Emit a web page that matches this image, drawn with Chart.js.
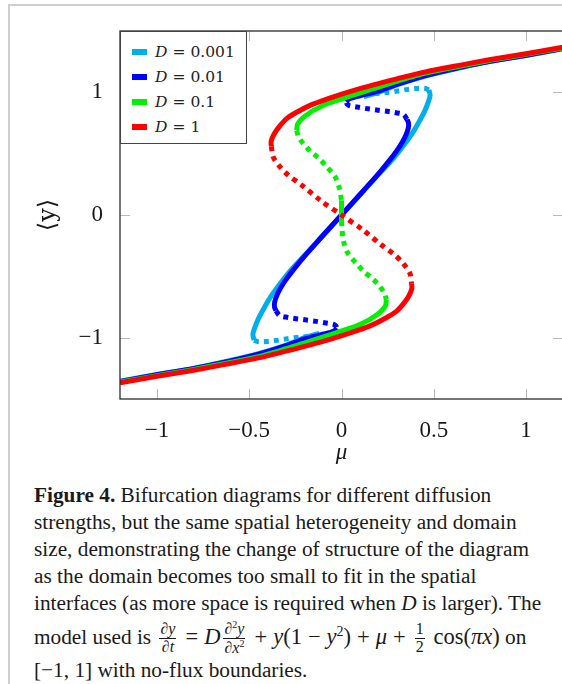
<!DOCTYPE html>
<html>
<head>
<meta charset="utf-8">
<script src="https://cdn.jsdelivr.net/npm/chart.js@4.4.1/dist/chart.umd.min.js"></script>
<style>
  html, body { margin: 0; padding: 0; background: #fff; }
  body { width: 562px; height: 684px; overflow: hidden; position: relative; }
  #frame { position: absolute; left: 8px; top: 4px; width: 700px; height: 800px;
           border-left: 2px solid #cfcfcf; border-top: 2px solid #cfcfcf; }
  #chartBox { position: absolute; left: 0; top: 0; width: 570px; height: 480px; }
  #legend { position: absolute; background: #fff; border: 1px solid #444; box-sizing: border-box;
            font-family: "DejaVu Serif", serif; font-size: 15.5px; color: #222; padding-top: 7px; }
  #legend .row { height: 25px; display: flex; align-items: center; }
  #legend .sw { width: 15px; height: 6px; margin: 0 8px 0 11px; }
  #legend .eq { margin: 0 5px; }
  #caption { position: absolute; left: 34px; top: 482px; font-family: "Liberation Serif", serif;
             font-size: 21.3px; line-height: 27px; color: #1a1a1a; white-space: nowrap; }
  .math { font-size: 22.5px; }
  .frac { display: inline-block; vertical-align: middle; text-align: center; font-size: 16px; line-height: 1.05; margin: 0 3px; }
  .frac span { display: block; padding: 0 1px; }
  .frac .num { border-bottom: 1px solid #1a1a1a; }
  .op { margin: 0 6px; }
</style>
</head>
<body>
<div id="frame"></div>
<div id="chartBox"><canvas id="myChart" width="570" height="480"></canvas></div>
<div id="legend"></div>
<div id="caption"><b>Figure 4.</b> Bifurcation diagrams for different diffusion<br>strengths, but the same spatial heterogeneity and domain<br>size, demonstrating the change of structure of the diagram<br>as the domain becomes too small to fit in the spatial<br>interfaces (as more space is required when <i>D</i> is larger). The<br>model used is <span class="math"><span class="frac"><span class="num">∂<i>y</i></span><span>∂<i>t</i></span></span><span class="op">=</span><i>D</i><span class="frac"><span class="num">∂<sup style="font-size:10px">2</sup><i>y</i></span><span>∂<i>x</i><sup style="font-size:10px">2</sup></span></span><span class="op">+</span><i>y</i>(1<span class="op">−</span><i>y</i><sup style="font-size:14px">2</sup>)<span class="op">+</span><i>μ</i><span class="op">+</span><span class="frac"><span class="num">1</span><span>2</span></span> cos(<i>πx</i>)</span> on<br>[−1, 1] with no-flux boundaries.</div>

<script>
//datos: pares [mu, <y>]
const xTickVals = [-1, -0.5, 0, 0.5, 1];
const yTickVals = [-1, 0, 1];

// D = 1 (rojo)
const redUpper = [[-0.38,0.56],[-0.381,0.60],[-0.365,0.66],[-0.335,0.725],[-0.297,0.786],[-0.24,0.84],[-0.17,0.894],[-0.08,0.945],[0.01,0.989],[0.1,1.03],[0.2,1.071],[0.3,1.11],[0.45,1.165],[0.645,1.222],[0.8,1.265],[1.0,1.315],[1.2,1.367]];
const redUnstable = [[-0.38,0.56],[-0.37,0.473],[-0.333,0.392],[-0.288,0.324],[-0.215,0.243],[-0.116,0.121],[0,0],[0.116,-0.121],[0.215,-0.243],[0.288,-0.324],[0.333,-0.392],[0.37,-0.473],[0.38,-0.56]];
const redLower = [[0.38,-0.56],[0.381,-0.60],[0.365,-0.66],[0.335,-0.725],[0.297,-0.786],[0.24,-0.84],[0.17,-0.894],[0.08,-0.945],[-0.01,-0.989],[-0.1,-1.03],[-0.2,-1.071],[-0.3,-1.11],[-0.45,-1.165],[-0.645,-1.222],[-0.8,-1.265],[-1.0,-1.315],[-1.2,-1.367]];

// D = 0.1 (verde)
const greenUpper = [[-0.243,0.69],[-0.238,0.74],[-0.215,0.785],[-0.185,0.82],[-0.152,0.853],[-0.08,0.905],[0.01,0.95],[0.09,0.99],[0.174,1.03],[0.3,1.09],[0.45,1.155],[0.645,1.215],[0.8,1.26],[1.0,1.31],[1.2,1.362]];
const greenUnstableTop = [[-0.243,0.69],[-0.233,0.64],[-0.207,0.582],[-0.17,0.522],[-0.125,0.466],[-0.079,0.392],[-0.034,0.31],[-0.011,0.216],[0,0.12]];
const greenMiddle = [[0,0.12],[0,-0.05]];
const greenUnstableBottom = [[0,-0.05],[0.003,-0.12],[0.011,-0.216],[0.034,-0.31],[0.079,-0.392],[0.125,-0.466],[0.17,-0.522],[0.207,-0.582],[0.233,-0.64],[0.243,-0.69]];
const greenLower = [[0.243,-0.69],[0.238,-0.74],[0.215,-0.785],[0.185,-0.82],[0.152,-0.853],[0.08,-0.905],[-0.01,-0.95],[-0.09,-0.99],[-0.174,-1.03],[-0.3,-1.09],[-0.45,-1.155],[-0.645,-1.215],[-0.8,-1.26],[-1.0,-1.31],[-1.2,-1.362]];

// D = 0.01 (azul)
const blueUpper = [[0.026,0.921],[0.04,0.945],[0.1,0.972],[0.2,1.01],[0.3,1.065],[0.45,1.135],[0.645,1.205],[0.8,1.252],[1.0,1.303],[1.2,1.357]];
const blueUnstableTop = [[0.355,0.78],[0.335,0.82],[0.29,0.835],[0.247,0.845],[0.19,0.856],[0.138,0.867],[0.084,0.88],[0.045,0.89],[0.03,0.905],[0.026,0.921]];
const blueMiddle = [[0.355,0.78],[0.363,0.75],[0.362,0.71],[0.35,0.655],[0.33,0.595],[0.3,0.525],[0.26,0.445],[0.2,0.335],[0.12,0.2],[0,0],[-0.12,-0.2],[-0.2,-0.335],[-0.26,-0.445],[-0.3,-0.525],[-0.33,-0.595],[-0.35,-0.655],[-0.362,-0.71],[-0.363,-0.75],[-0.355,-0.78]];
const blueUnstableBottom = [[-0.355,-0.78],[-0.335,-0.82],[-0.29,-0.835],[-0.247,-0.845],[-0.19,-0.856],[-0.138,-0.867],[-0.084,-0.88],[-0.045,-0.89],[-0.03,-0.905],[-0.026,-0.921]];
const blueLower = [[-0.026,-0.921],[-0.04,-0.945],[-0.1,-0.972],[-0.2,-1.01],[-0.3,-1.065],[-0.45,-1.135],[-0.645,-1.205],[-0.8,-1.252],[-1.0,-1.303],[-1.2,-1.357]];

// D = 0.001 (celeste)
const cyanUpper = [[0.12,0.965],[0.2,1.0],[0.3,1.06],[0.45,1.13],[0.645,1.2],[0.8,1.25],[1.0,1.3],[1.2,1.355]];
const cyanUnstableTop = [[0.473,1.02],[0.455,1.032],[0.41,1.032],[0.35,1.022],[0.3,1.01],[0.24,0.998],[0.183,0.99],[0.138,0.977],[0.12,0.965]];
const cyanMiddle = [[0.473,1.02],[0.48,0.975],[0.47,0.92],[0.45,0.845],[0.42,0.76],[0.385,0.67],[0.34,0.575],[0.28,0.46],[0.2,0.33],[0.1,0.165],[0,0],[-0.1,-0.165],[-0.2,-0.33],[-0.28,-0.46],[-0.34,-0.575],[-0.385,-0.67],[-0.42,-0.76],[-0.45,-0.845],[-0.47,-0.92],[-0.48,-0.975],[-0.473,-1.02]];
const cyanUnstableBottom = [[-0.473,-1.02],[-0.455,-1.032],[-0.41,-1.032],[-0.35,-1.022],[-0.3,-1.01],[-0.24,-0.998],[-0.183,-0.99],[-0.138,-0.977],[-0.12,-0.965]];
const cyanLower = [[-0.12,-0.965],[-0.2,-1.0],[-0.3,-1.06],[-0.45,-1.13],[-0.645,-1.2],[-0.8,-1.25],[-1.0,-1.3],[-1.2,-1.355]];

const legendLabels = ["0.001", "0.01", "0.1", "1"];
const colors = { cyan: "#00aee9", blue: "#0000ff", green: "#00f000", red: "#ff0000" };

//cada rama como una serie con línea
function branch(points, color, dotted) {
  return {
    data: points.map(([x, y]) => ({ x, y })),
    borderColor: color,
    borderWidth: 5,
    borderDash: dotted ? [5, 5] : [],
    showLine: true,
    pointRadius: 0,
    tension: 0.3,
    fill: false,
    clip: 0,
  };
}

//el primer dataset se dibuja arriba: rojo primero
const datasets = [
  branch(redUpper, colors.red, false),
  branch(redUnstable, colors.red, true),
  branch(redLower, colors.red, false),
  branch(greenUpper, colors.green, false),
  branch(greenUnstableTop, colors.green, true),
  branch(greenMiddle, colors.green, false),
  branch(greenUnstableBottom, colors.green, true),
  branch(greenLower, colors.green, false),
  branch(blueUpper, colors.blue, false),
  branch(blueUnstableTop, colors.blue, true),
  branch(blueMiddle, colors.blue, false),
  branch(blueUnstableBottom, colors.blue, true),
  branch(blueLower, colors.blue, false),
  branch(cyanUpper, colors.cyan, false),
  branch(cyanUnstableTop, colors.cyan, true),
  branch(cyanMiddle, colors.cyan, false),
  branch(cyanUnstableBottom, colors.cyan, true),
  branch(cyanLower, colors.cyan, false),
];

//marcas de los ejes hacia adentro y marco
const insideTicks = {
  id: "insideTicks",
  beforeDatasetsDraw(chart) {
    const { ctx, chartArea: a, scales: { x, y } } = chart;
    ctx.save();
    ctx.strokeStyle = "#b8b8b8";
    ctx.lineWidth = 1;
    ctx.beginPath();
    x.ticks.forEach((t) => {
      const px = Math.round(x.getPixelForValue(t.value)) + 0.5;
      ctx.moveTo(px, a.top); ctx.lineTo(px, a.top + 10);
      ctx.moveTo(px, a.bottom); ctx.lineTo(px, a.bottom - 10);
    });
    y.ticks.forEach((t) => {
      const py = Math.round(y.getPixelForValue(t.value)) + 0.5;
      ctx.moveTo(a.left, py); ctx.lineTo(a.left + 10, py);
      ctx.moveTo(a.right, py); ctx.lineTo(a.right - 10, py);
    });
    ctx.stroke();
    ctx.restore();
  },
  afterDatasetsDraw(chart) {
    const { ctx, chartArea: a } = chart;
    ctx.save();
    ctx.strokeStyle = "#2b2b2b";
    ctx.lineWidth = 1.3;
    ctx.strokeRect(a.left, a.top, a.right - a.left, a.bottom - a.top);
    ctx.restore();
  },
};

const fmt = (v) => (v < 0 ? "\u2212" + Math.abs(v) : String(v));
const tickFont = { family: "'Liberation Serif', serif", size: 23 };

const ctx = document.getElementById("myChart").getContext("2d");
const myChart = new Chart(ctx, {
  type: "scatter",
  data: { datasets },
  options: {
    responsive: false,
    animation: false,
    devicePixelRatio: 1,
    layout: { padding: { top: 31, right: 7, left: 0, bottom: 0 } },
    plugins: { legend: { display: false }, tooltip: { enabled: false } },
    scales: {
      x: {
        type: "linear",
        min: -1.2,
        max: 1.2,
        grid: { display: false },
        border: { display: false },
        afterBuildTicks: (s) => { s.ticks = xTickVals.map((v) => ({ value: v })); },
        afterFit: (s) => { s.height = 81; },
        ticks: { font: tickFont, color: "#1a1a1a", padding: 10, maxRotation: 0, callback: fmt },
        title: {
          display: true,
          text: "\u03bc",
          font: { family: "'Liberation Serif', serif", size: 23, style: "italic" },
          color: "#1a1a1a",
          padding: { top: 0, bottom: 13 },
        },
      },
      y: {
        type: "linear",
        min: -1.5,
        max: 1.5,
        grid: { display: false },
        border: { display: false },
        afterBuildTicks: (s) => { s.ticks = yTickVals.map((v) => ({ value: v })); },
        afterFit: (s) => { s.width = 120; },
        ticks: { font: tickFont, color: "#1a1a1a", padding: 9, callback: fmt },
        title: {
          display: true,
          text: "\u27e8y\u27e9",
          font: { family: "'DejaVu Serif', serif", size: 24 },
          color: "#1a1a1a",
          padding: { top: 34, bottom: 0 },
        },
      },
    },
  },
  plugins: [insideTicks],
});

//leyenda en HTML dentro del área del gráfico
const $legend = document.getElementById("legend");
const area = myChart.chartArea;
$legend.style.left = area.left + "px";
$legend.style.top = area.top + "px";
$legend.style.width = "127px";
$legend.style.height = "113px";
const legendColors = [colors.cyan, colors.blue, colors.green, colors.red];
legendLabels.forEach((label, i) => {
  const row = document.createElement("div");
  row.className = "row";
  row.innerHTML = `<span class="sw" style="background:${legendColors[i]}"></span><i>D</i><span class="eq">=</span>${label}`;
  $legend.appendChild(row);
});
</script>
</body>
</html>
